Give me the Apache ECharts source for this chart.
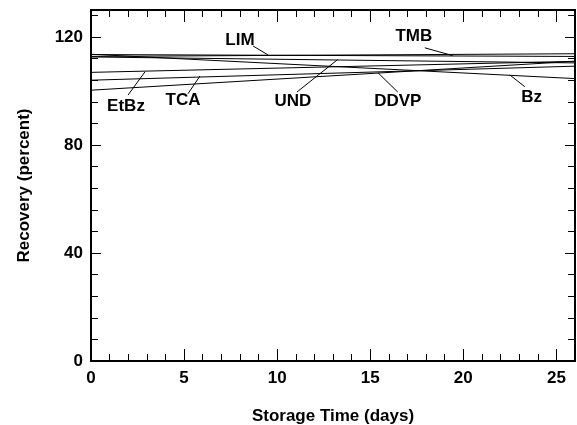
<!DOCTYPE html>
<html>
<head>
<meta charset="utf-8">
<script src="https://cdn.jsdelivr.net/npm/echarts@6/dist/echarts.min.js"></script>
<style>
  html, body { margin: 0; padding: 0; background: #fff; }
  #main { width: 577px; height: 425px; }
</style>
</head>
<body>
<div id="main"></div>
<script>
// storage days at which each fitted line is drawn
const days = [0, 26];

// recovery (percent) at day 0 and day 26, one fitted line per compound
const names = ['EtBz', 'TCA', 'LIM', 'UND', 'DDVP', 'TMB', 'Bz'];
const startValues = [106.9, 104.0, 113.5, 112.6, 100.3, 112.8, 113.6];
const endValues = [111.0, 109.2, 112.8, 110.4, 111.0, 113.8, 104.6];

const yTickLabels = [0, 40, 80, 120];
const xTickLabels = [0, 5, 10, 15, 20, 25];

// where the name of each line sits, and where its leader starts / ends (data units)
const labelAt = [[1.88, 94.2], [4.94, 96.4], [8.0, 118.9], [10.84, 96.0], [16.48, 96.0], [17.34, 120.4], [23.67, 97.5]];
const leaderFrom = [[1.99, 98.5], [5.21, 99.0], [8.70, 116.7], [11.06, 99.6], [16.48, 99.6], [17.93, 116.0], [23.3, 101.6]];
const leaderTo = [[2.90, 107.1], [5.85, 105.5], [9.50, 113.4], [13.26, 111.7], [15.41, 106.8], [19.43, 113.1], [22.49, 106.0]];

const chart = echarts.init(document.getElementById('main'), null, { renderer: 'canvas' });

const font = 'Liberation Sans, Arial, sans-serif';
const black = '#000';
const fs = 17;

function xAxis(pos, interval, len, withLabels) {
  return {
    type: 'value', position: pos, min: 0, max: 26, interval: interval,
    axisLine: { show: true, onZero: false, lineStyle: { color: black, width: 2 } },
    axisTick: { show: true, inside: true, length: len, lineStyle: { color: black, width: 1 } },
    axisLabel: {
      show: withLabels, color: black, fontFamily: font, fontWeight: 'bold', fontSize: fs, margin: 9,
      showMaxLabel: false,
      formatter: v => xTickLabels.indexOf(v) >= 0 ? String(v) : ''
    },
    splitLine: { show: false },
    name: withLabels ? 'Storage Time (days)' : '',
    nameLocation: 'middle', nameGap: 47,
    nameTextStyle: { color: black, fontFamily: font, fontWeight: 'bold', fontSize: fs }
  };
}

function yAxis(pos, interval, len, withLabels) {
  return {
    type: 'value', position: pos, min: 0, max: 130, interval: interval,
    axisLine: { show: true, onZero: false, lineStyle: { color: black, width: 2 } },
    axisTick: { show: true, inside: true, length: len, lineStyle: { color: black, width: 1 } },
    axisLabel: {
      show: withLabels, color: black, fontFamily: font, fontWeight: 'bold', fontSize: fs, margin: 8,
      showMaxLabel: false,
      formatter: v => yTickLabels.indexOf(v) >= 0 ? String(v) : ''
    },
    splitLine: { show: false },
    name: withLabels ? 'Recovery (percent)' : '',
    nameLocation: 'middle', nameGap: 58,
    nameTextStyle: { color: black, fontFamily: font, fontWeight: 'bold', fontSize: fs }
  };
}

const series = names.map((name, i) => ({
  name: name,
  type: 'line',
  xAxisIndex: 0,
  yAxisIndex: 0,
  data: [[days[0], startValues[i]], [days[1], endValues[i]]],
  symbol: 'none',
  silent: true,
  lineStyle: { color: black, width: 1 },
  markLine: {
    silent: true, symbol: 'none', animation: false,
    label: { show: false },
    lineStyle: { color: black, width: 1, type: 'solid' },
    data: [[{ coord: leaderFrom[i] }, { coord: leaderTo[i] }]]
  },
  markPoint: {
    silent: true, symbol: 'circle', symbolSize: 0, animation: false,
    label: {
      show: true, position: 'inside', formatter: name,
      color: black, fontFamily: font, fontWeight: 'bold', fontSize: fs
    },
    data: [{ coord: labelAt[i] }]
  }
}));

const option = {
  backgroundColor: '#fff',
  animation: false,
  grid: { left: 91, right: 2, top: 10, bottom: 64, containLabel: false, outerBoundsMode: 'none' },
  xAxis: [
    xAxis('bottom', 5, 12, true),
    xAxis('bottom', 1, 7, false),
    xAxis('top', 5, 12, false),
    xAxis('top', 1, 7, false)
  ],
  yAxis: [
    yAxis('left', 40, 10, true),
    yAxis('left', 8, 7, false),
    yAxis('right', 40, 10, false),
    yAxis('right', 8, 7, false)
  ],
  series: series
};

chart.setOption(option);
</script>
</body>
</html>
